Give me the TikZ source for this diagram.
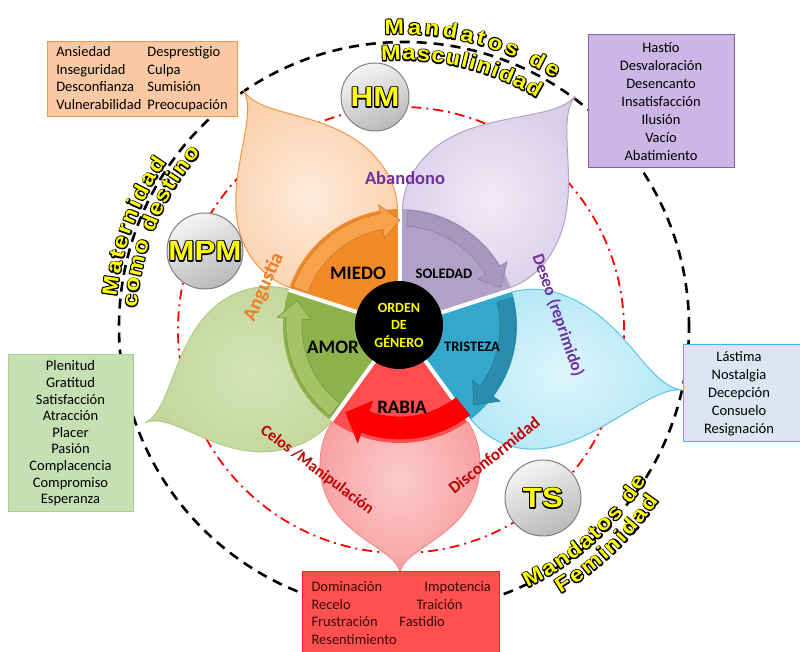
\documentclass[tikz,border=0pt]{standalone}
\usepackage{fontspec}
\setmainfont{Carlito}
\newfontfamily\heavyfont{Liberation Sans}
\newfontfamily\titlefont{Liberation Sans}[FakeStretch=1.12]
\usetikzlibrary{arrows.meta,calc,decorations.text}

\definecolor{ylw}{HTML}{FFFF00}
\definecolor{orgEdge}{HTML}{F79646}
\definecolor{orgFill}{HTML}{FBD0AC}
\definecolor{orgIn}{HTML}{FEEBDC}
\definecolor{purEdge}{HTML}{B3A2C7}
\definecolor{purFill}{HTML}{D9CEE9}
\definecolor{purIn}{HTML}{F0EBF6}
\definecolor{bluEdge}{HTML}{5BC5E4}
\definecolor{bluFill}{HTML}{B3E7F6}
\definecolor{bluIn}{HTML}{DDF5FC}
\definecolor{grnEdge}{HTML}{B3CB85}
\definecolor{grnFill}{HTML}{C2D699}
\definecolor{grnIn}{HTML}{D5E3B8}
\definecolor{pnkEdge}{HTML}{F28A8A}
\definecolor{pnkFill}{HTML}{F8A2A2}
\definecolor{pnkIn}{HTML}{FBCACA}
\definecolor{miedo}{HTML}{F28B26}
\definecolor{soledad}{HTML}{B2A1C6}
\definecolor{tristeza}{HTML}{33A8CB}
\definecolor{rabia}{HTML}{FF4D4D}
\definecolor{amor}{HTML}{8DB14B}
\definecolor{miedoA}{HTML}{F8A44C}
\definecolor{soledadA}{HTML}{A797BE}
\definecolor{tristezaA}{HTML}{2A8DAD}
\definecolor{rabiaA}{HTML}{FF0000}
\definecolor{amorA}{HTML}{A3C566}
\definecolor{boxOrg}{HTML}{FAC9A3}
\definecolor{boxOrgE}{HTML}{F79646}
\definecolor{boxPur}{HTML}{CDB5E5}
\definecolor{boxPurE}{HTML}{8064A2}
\definecolor{boxBlu}{HTML}{DCE6F2}
\definecolor{boxBluE}{HTML}{33BBEE}
\definecolor{boxGrn}{HTML}{C5E0B3}
\definecolor{boxGrnE}{HTML}{A9D18E}
\definecolor{boxRed}{HTML}{FF5050}
\definecolor{boxRedE}{HTML}{FF2020}
\definecolor{redTxt}{HTML}{3A0808}
\definecolor{lblPur}{HTML}{7030A0}
\definecolor{lblOrg}{HTML}{F07E26}
\definecolor{lblRed}{HTML}{C00000}
\definecolor{circEdge}{HTML}{7F7F7F}

% outline pass: stroke only, black, round joins
\newcommand\strokeonly{\special{pdf:literal direct 0 0 0 RG 2.4 w 1 j 1 Tr}}
\newcommand\strokeoff{\special{pdf:literal direct 0 Tr}}
\newcommand\olt[1]{\rlap{\strokeonly#1\strokeoff}{\color{ylw}#1}}
\newcommand\titlebase{\titlefont\bfseries\fontsize{21}{23}\selectfont}
\newcommand\titleback{\titlebase\strokeonly}
\newcommand\titlefront{\titlebase\color{ylw}\strokeoff}

% #1 start angle, #2 end angle, #3 radius, #4 text
\newcommand\curvetitle[4]{%
  \path[decorate, decoration={text along path,
      text={|\titleback|#4}, text align=fit to path}]
      ($(C)+(#1:#3)$) arc[start angle=#1, end angle=#2, radius=#3];
  \path[decorate, decoration={text along path,
      text={|\titlefront|#4}, text align=fit to path}]
      ($(C)+(#1:#3)$) arc[start angle=#1, end angle=#2, radius=#3];}

% #1 name, #2 axis, #3 tip angle, #4 tip dist, #5 body dist, #6 body radius, #7 style
\newcommand\petal[7]{%
  \coordinate (#1-tip) at ($(C)+(#3:#4)$);
  \coordinate (#1-body) at ($(C)+(#2:#5)$);
  \coordinate (#1-s1) at ($(#1-body)+(#2+90:#6)$);
  \coordinate (#1-s2) at ($(#1-body)+(#2-90:#6)$);
  \coordinate (#1-c) at ($(#1-tip)!0.25!(#1-body)$);
  \path[#7] (#1-tip) .. controls (#1-c) and ($(#1-s1)+(#2:{0.9*#6})$) .. (#1-s1)
    arc[start angle=#2+90, delta angle=180, radius=#6]
    .. controls ($(#1-s2)+(#2:{0.9*#6})$) and (#1-c) .. (#1-tip) -- cycle;}

% #1 a1, #2 a2, #3 style
\newcommand\sector[3]{%
  \path[#3] ($(C)+(#1:30)$) arc[start angle=#1, end angle=#2, radius=30]
    -- ($(C)+(#2:117)$) arc[start angle=#2, end angle=#1, radius=117] -- cycle;}

% #1 tail angle, #2 head base angle, #3 tip angle, #4 radius, #5 band half width, #6 head half width, #7 style
\newcommand\ringarrow[7]{%
  \path[#7] ($(C)+(#1:{#4+#5})$) arc[start angle=#1, end angle=#2, radius=#4+#5]
    -- ($(C)+(#2:{#4+#6})$) -- ($(C)+(#3:#4)$) -- ($(C)+(#2:{#4-#6})$)
    -- ($(C)+(#2:{#4-#5})$) arc[start angle=#2, end angle=#1, radius=#4-#5] -- cycle;}

\begin{document}
\begin{tikzpicture}[x=1pt,y=1pt,
  petalO/.style={draw=orgEdge, line width=1pt, inner color=orgIn, outer color=orgFill},
  petalP/.style={draw=purEdge, line width=1pt, inner color=purIn, outer color=purFill},
  petalB/.style={draw=bluEdge, line width=1pt, inner color=bluIn, outer color=bluFill},
  petalG/.style={draw=grnEdge, line width=1pt, inner color=grnIn, outer color=grnFill},
  petalR/.style={draw=pnkEdge, line width=1pt, inner color=pnkIn, outer color=pnkFill},
  boxtxt/.style={font=\fontsize{14.5}{17.5}\selectfont, inner sep=0pt, line width=1pt},
  biglbl/.style={font=\bfseries\fontsize{19}{19}\selectfont, inner sep=0pt},
  smalllbl/.style={font=\bfseries\fontsize{14.5}{14.5}\selectfont, inner sep=0pt},
  petallbl/.style={font=\bfseries\fontsize{17}{17}\selectfont, inner sep=0pt},
  graycirc/.style={circle, draw=circEdge, line width=1pt, inner sep=0pt,
    top color=white!92!gray, bottom color=gray!55, shading angle=25,
    font=\titlefont\bfseries\fontsize{28}{28}\selectfont}]
\useasboundingbox (0,0) rectangle (800,652);
\fill[white] (0,0) rectangle (800,652);
\coordinate (C) at (400,326);
\coordinate (CD) at (404,325);
\coordinate (CR) at (401,322);

% circles
\draw[line width=2.6pt, dash pattern=on 10pt off 7pt] (CD) circle[radius=285];
\draw[red, line width=1.8pt, dash pattern=on 10pt off 5pt on 2pt off 5pt] (CR) circle[radius=223];

% petals
\petal{pg}{198}{200.8}{273}{138}{82}{petalG}
\petal{pr}{-90}{-90}{248}{138}{80}{petalR}
\petal{pb}{-18}{-12.8}{289}{140}{80}{petalB}
\petal{po}{126}{123.6}{283}{140}{80}{petalO}
\petal{pp}{54}{52.7}{289}{140}{80}{petalP}

% inner ring
\sector{90}{162}{fill=miedo}
\sector{18}{90}{fill=soledad}
\sector{-54}{18}{fill=tristeza}
\sector{-126}{-54}{fill=rabia}
\sector{162}{234}{fill=amor}
\foreach \a in {90,18,-54,-126,162} \draw[white, line width=4pt] (C) -- ($(C)+(\a:117)$);

\ringarrow{160}{100}{90}{106}{8}{17}{fill=miedoA, draw=orgEdge!80!black, line width=0.6pt, fill opacity=0.92}
\ringarrow{86}{31}{21}{108}{8}{17}{fill=soledadA, draw=soledadA!85!black, line width=0.6pt}
\ringarrow{14}{-37}{-47}{108}{8}{17}{fill=tristezaA, draw=tristezaA!85!black, line width=0.6pt}
\ringarrow{-52}{-110}{-122}{102}{11}{22}{fill=rabiaA, draw=rabiaA!90!black, line width=0.6pt}
\ringarrow{232}{176}{166}{106}{8}{17}{fill=amorA, draw=amor!85!black, line width=0.6pt}

% center
\node[circle, fill=black, minimum size=88pt, inner sep=0pt, text=ylw, align=center,
  font=\bfseries\fontsize{14}{17.5}\selectfont] (og) at (399,327) {ORDEN\\DE\\GÉNERO};

% ring labels
\node[biglbl] (miedoL) at (358,379) {MIEDO};
\node[smalllbl] (soledadL) at (444,378) {SOLEDAD};
\node[smalllbl] (tristezaL) at (472,305) {TRISTEZA};
\node[biglbl] (rabiaL) at (402,245) {RABIA};
\node[biglbl] (amorL) at (333,305) {AMOR};

% petal labels
\node[petallbl, text=lblPur, font=\bfseries\fontsize{18.5}{18.5}\selectfont] (aband) at (405,474) {Abandono};
\node[petallbl, text=lblOrg, font=\bfseries\fontsize{20}{20}\selectfont, rotate=66] (angus) at (264,365) {Angustia};
\node[petallbl, text=lblPur, rotate=-71] (deseo) at (558,337) {Deseo (reprimido)};
\node[petallbl, text=lblRed, rotate=39] (disc) at (494,197) {Disconformidad};
\node[petallbl, text=lblRed, font=\bfseries\fontsize{16}{16}\selectfont, rotate=-37] (celos) at (317,182) {Celos /Manipulación};

% gray circles
\node[graycirc, minimum size=68pt] (hm) at (375,555) {\olt{HM}};
\node[graycirc, minimum size=76pt] (mpm) at (205,401) {\olt{MPM}};
\node[graycirc, minimum size=76pt] (ts) at (543,154) {\olt{TS}};

% curved titles
\curvetitle{93}{58}{292}{Mandatos de}
\curvetitle{94}{59}{266}{Masculinidad}
\curvetitle{174}{145}{285}{Maternidad}
\curvetitle{176}{139}{264}{como destino}
\curvetitle{-64}{-32}{291}{Mandatos de}
\curvetitle{-59}{-34}{312}{Feminidad}

% boxes
\node[boxtxt, draw=boxOrgE, fill=boxOrg, minimum width=190pt, minimum height=75pt] (bxO) at (142,572.5)
  {\begin{tabular}{@{}l@{\hspace{6pt}}l@{}}Ansiedad & Desprestigio\\ Inseguridad & Culpa\\ Desconfianza & Sumisión\\ Vulnerabilidad & Preocupación\end{tabular}};
\node[boxtxt, draw=boxPurE, fill=boxPur, minimum width=146pt, minimum height=133pt, align=center,
  font=\fontsize{14.5}{18}\selectfont] (bxP) at (661,550.5)
  {Hastío\\Desvaloración\\Desencanto\\Insatisfacción\\Ilusión\\Vacío\\Abatimiento};
\node[boxtxt, draw=boxBluE, fill=boxBlu, minimum width=119pt, minimum height=97pt, align=center,
  font=\fontsize{14.5}{18}\selectfont] (bxB) at (742.5,258.5) {\hspace*{-7pt}\begin{tabular}{@{}c@{}}Lástima\\Nostalgia\\Decepción\\Consuelo\\Resignación\end{tabular}};
\node[boxtxt, draw=boxGrnE, fill=boxGrn, minimum width=125pt, minimum height=157pt, align=center,
  font=\fontsize{14.5}{16.6}\selectfont] (bxG) at (70.5,218.5)
  {Plenitud\\Gratitud\\Satisfacción\\Atracción\\Placer\\Pasión\\Complacencia\\Compromiso\\Esperanza};
\node[boxtxt, draw=boxRedE, fill=boxRed, minimum width=197pt, minimum height=83pt] (bxR) at (400.5,38.5) {};
\node[boxtxt, anchor=north west, align=left, text=redTxt, font=\fontsize{14.5}{17.6}\selectfont] (bxRt) at (311,71)
  {\makebox[113pt][l]{Dominación}Impotencia\\ \makebox[105pt][l]{Recelo}Traición\\ \makebox[88pt][l]{Frustración}Fastidio\\ Resentimiento};
\end{tikzpicture}
\end{document}
